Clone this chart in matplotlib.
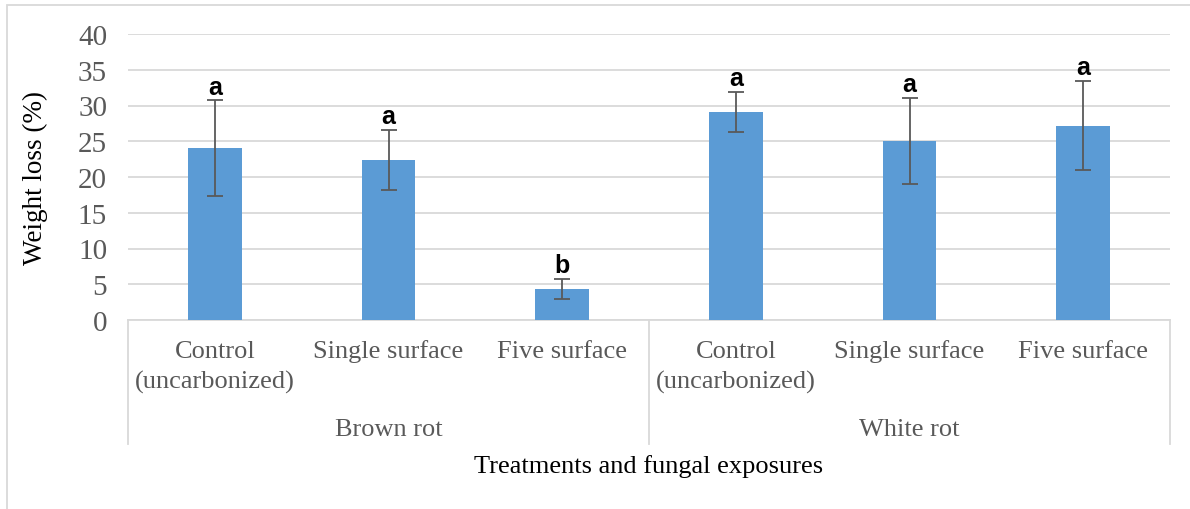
import matplotlib
matplotlib.use("Agg")
import matplotlib.pyplot as plt
from matplotlib.patches import Rectangle
from matplotlib.lines import Line2D

groups = ["Brown rot", "White rot"]
treatments = ["Control\n(uncarbonized)", "Single surface", "Five surface"]
means = [24.0, 22.4, 4.4, 29.1, 25.0, 27.2]
errors = [6.7, 4.2, 1.4, 2.8, 6.0, 6.2]
letters = ["a", "a", "b", "a", "a", "a"]
yticks = [0, 5, 10, 15, 20, 25, 30, 35, 40]

W, H = 1190, 510
fig = plt.figure(figsize=(W / 100, H / 100), dpi=100)
serif = ["Liberation Serif", "DejaVu Serif"]
ax = fig.add_axes([128 / W, 189 / H, (1170 - 128) / W, (321 - 35) / H])

grey = "#d9d9d9"
txtc = "#595959"
n = len(means)
x = list(range(n))
ax.bar(x, means, width=0.31, color="#5B9BD5", zorder=3)
ax.errorbar(x, means, yerr=errors, fmt="none", ecolor="#595959",
            elinewidth=1.3, capsize=6, capthick=1.3, zorder=4)
for xi, m, e, l in zip(x, means, errors, letters):
    ax.annotate(l, (xi, m + e), xytext=(0, 5), textcoords="offset points",
                ha="center", va="baseline", fontsize=18, fontweight="bold",
                family=["Liberation Sans", "DejaVu Sans"], color="black")

ax.set_xlim(-0.5, n - 0.5)
ax.set_ylim(0, 40)
ax.set_yticks(yticks)
ax.set_yticklabels([str(v) for v in yticks], fontsize=21, family=serif, color=txtc)
ax.tick_params(axis="y", length=0, pad=15)
ax.set_xticks([])
ax.yaxis.grid(True, color=grey, linewidth=1.3, zorder=0)
for s in ["left", "right", "top"]:
    ax.spines[s].set_visible(False)
ax.spines["bottom"].set_color(grey)
ax.spines["bottom"].set_linewidth(1.3)

tr = ax.get_xaxis_transform()
ah = 286.0
for gi, g in enumerate(groups):
    for ti, t in enumerate(treatments):
        xi = gi * len(treatments) + ti
        if "\n" in t:
            yc = -(367.5 - 321) / ah
        else:
            yc = -(352 - 321) / ah
        ax.text(xi, yc, t, transform=tr, ha="center", va="center",
                fontsize=19, family=serif, color=txtc, linespacing=1.42)
    gc = gi * len(treatments) + (len(treatments) - 1) / 2
    ax.text(gc, -(430 - 321) / ah, g, transform=tr, ha="center", va="center",
            fontsize=19, family=serif, color=txtc)

for b in [-0.5, 2.5, 5.5]:
    ax.add_line(Line2D([b, b], [0, -(445 - 321) / ah], transform=tr,
                       color=grey, linewidth=1.3, clip_on=False))

ax.text(0.5, -(467 - 321) / ah, "Treatments and fungal exposures",
        transform=ax.transAxes, ha="center", va="center", fontsize=19,
        family=serif, color="black")
fig.text(35 / W, 1 - 178 / H, "Weight loss (%)", rotation=90, ha="center",
         va="center", fontsize=19.5, family=serif, color="black")

fig.patches.append(Rectangle((7 / W, -0.01), 1.1, 1 - 6 / H + 0.01,
                             transform=fig.transFigure, fill=False,
                             edgecolor=grey, linewidth=1.3))

fig.savefig("out.png", dpi=100)
